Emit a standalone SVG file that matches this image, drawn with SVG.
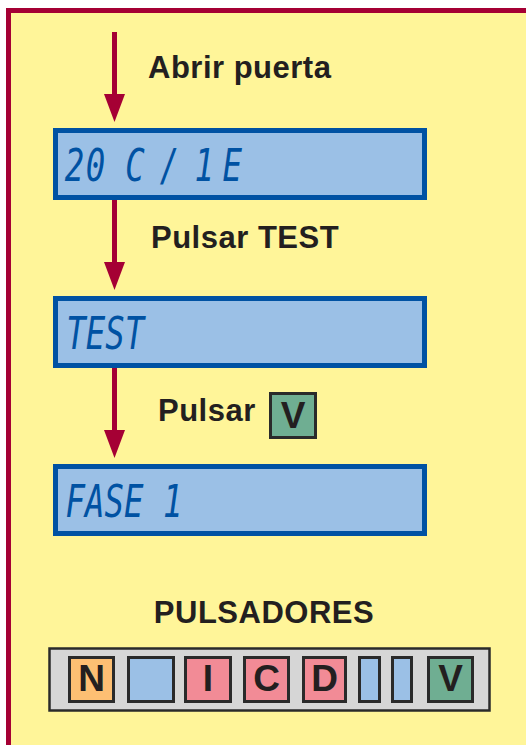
<svg xmlns="http://www.w3.org/2000/svg" width="526" height="745" viewBox="0 0 526 745">
<defs>
<style>
.lbl{font-family:"Liberation Sans",Arial,sans-serif;font-weight:bold;font-size:31px;fill:#231f20;letter-spacing:0.5px}
.lcd{fill:#9bc0e6;stroke:#0052a3;stroke-width:5}
.seg{font-family:"DejaVu Sans Mono",monospace;font-style:oblique;font-size:45px;fill:#0052a3}
.btn{stroke:#2a2a2a;stroke-width:3}
.key{font-family:"Liberation Sans",Arial,sans-serif;font-weight:bold;font-size:37px;fill:#231f20;text-anchor:middle}
.wire{stroke:#a50034;stroke-width:5;fill:none}
.head{fill:#a50034}
</style>
</defs>
<rect x="0" y="0" width="526" height="745" fill="#ffffff"/>
<rect id="frame" x="8.5" y="10.5" width="530" height="750" fill="#fff599" stroke="#a50034" stroke-width="5"/>

<g id="connectors">
<path class="wire" d="M114.5,32 V97"/>
<path class="head" d="M104,94 H125 L114.5,122 Z"/>
<path class="wire" d="M114.5,200 V265"/>
<path class="head" d="M104,262 H125 L114.5,290 Z"/>
<path class="wire" d="M114.5,368 V433"/>
<path class="head" d="M104,430 H125 L114.5,458 Z"/>
</g>

<g id="label-abrir"><text class="lbl" x="148" y="78">Abrir puerta</text></g>
<g id="label-test"><text class="lbl" x="151" y="248">Pulsar TEST</text></g>
<g id="label-v">
<text class="lbl" x="158" y="421">Pulsar</text>
<rect class="btn" x="270.5" y="393.5" width="45" height="44" fill="#6fae92" stroke-width="2.5"/>
<text class="key" x="293" y="428">V</text>
</g>

<g id="lcd1">
<rect class="lcd" x="55.5" y="130.5" width="369" height="67"/>
<text class="seg" transform="scale(0.72,1)" x="90 119 146 174 200 222 258 270 296 309" y="181">20 C / 1 E</text>
</g>
<g id="lcd2">
<rect class="lcd" x="55.5" y="298.5" width="369" height="67"/>
<text class="seg" transform="scale(0.72,1)" x="92" y="349">TEST</text>
</g>
<g id="lcd3">
<rect class="lcd" x="55.5" y="466.5" width="369" height="67"/>
<text class="seg" transform="scale(0.72,1)" x="91" y="517">FASE 1</text>
</g>

<g id="pulsadores">
<text class="lbl" x="264" y="623" text-anchor="middle">PULSADORES</text>
<rect x="49.5" y="648.5" width="440" height="62" fill="#d6d6d6" stroke="#2a2a2a" stroke-width="2.5"/>
<rect class="btn" x="69.5" y="657.5" width="44" height="44" fill="#fdbf73"/>
<text class="key" x="91.5" y="691">N</text>
<rect class="btn" x="128.5" y="657.5" width="45" height="44" fill="#9bc0e6"/>
<rect class="btn" x="185.5" y="657.5" width="45" height="44" fill="#f28b96"/>
<text class="key" x="208" y="691">I</text>
<rect class="btn" x="244.5" y="657.5" width="44" height="44" fill="#f28b96"/>
<text class="key" x="266.5" y="691">C</text>
<rect class="btn" x="303.5" y="657.5" width="42" height="44" fill="#f28b96"/>
<text class="key" x="324.5" y="691">D</text>
<rect class="btn" x="359.5" y="657.5" width="20" height="44" fill="#9bc0e6"/>
<rect class="btn" x="392.5" y="657.5" width="19" height="44" fill="#9bc0e6"/>
<rect class="btn" x="428.5" y="657.5" width="44" height="44" fill="#6fae92"/>
<text class="key" x="450.5" y="691">V</text>
</g>
</svg>
